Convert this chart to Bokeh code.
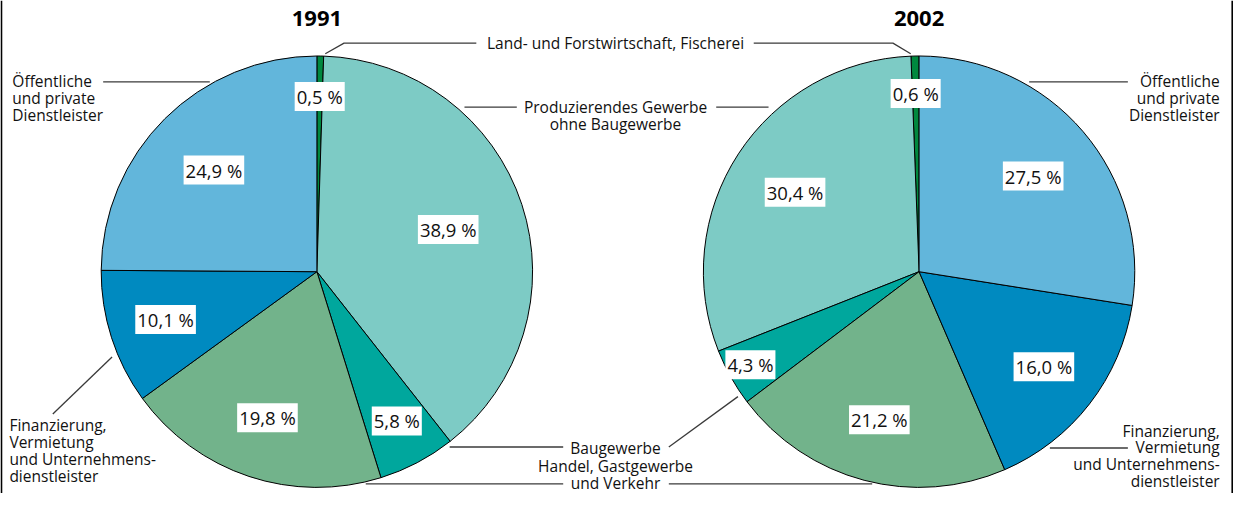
import math
from bokeh.plotting import figure
from bokeh.models import Range1d
from bokeh.core.properties import value
from bokeh.embed import file_html
from bokeh.resources import INLINE

# ---------------- data ----------------
categories = [
    "Land- und Forstwirtschaft, Fischerei",
    "Produzierendes Gewerbe ohne Baugewerbe",
    "Baugewerbe",
    "Handel, Gastgewerbe und Verkehr",
    "Finanzierung, Vermietung und Unternehmensdienstleister",
    "Öffentliche und private Dienstleister",
]
years = ["1991", "2002"]
shares_1991 = [0.5, 38.9, 5.8, 19.8, 10.1, 24.9]
shares_2002 = [0.6, 30.4, 4.3, 21.2, 16.0, 27.5]

# ---------------- style / layout ----------------
colors = ["#00883F", "#7DCBC5", "#00A79D", "#72B38B", "#008AC0", "#62B6DB"]
FONT = "Open Sans"
W, H = 1233, 493
REF_W, REF_H = 1249, 509  # layout is given in reference pixels, y flipped


def Y(yr):
    return REF_H - yr


pies = [
    dict(title=years[0], shares=shares_1991, cx=320.5, cy=Y(280), direction="clock",
         label_r=[181, 140, 174, 159, 161, 148]),
    dict(title=years[1], shares=shares_2002, cx=930.5, cy=Y(280), direction="anticlock",
         label_r=[184, 150, 196, 158, 160, 152]),
]
R = 218.5

p = figure(width=W, height=H, x_range=Range1d(0, REF_W), y_range=Range1d(0, REF_H),
           output_backend="svg", toolbar_location=None, x_axis_location=None,
           y_axis_location=None, min_border=0, outline_line_color=None,
           background_fill_color="white", border_fill_color="white")
p.grid.visible = False

for pie in pies:
    sh = pie["shares"]
    total = sum(sh)
    cum = [0.0]
    for v in sh:
        cum.append(cum[-1] + v / total)
    sign = -1 if pie["direction"] == "clock" else 1
    starts = [math.pi / 2 + sign * 2 * math.pi * cum[i] for i in range(len(sh))]
    ends = [math.pi / 2 + sign * 2 * math.pi * cum[i + 1] for i in range(len(sh))]
    p.wedge(x=pie["cx"], y=pie["cy"], radius=R, start_angle=starts, end_angle=ends,
            direction=pie["direction"], fill_color=colors, line_color="black", line_width=1)
    # percentage labels
    lx, ly, lt = [], [], []
    for i, v in enumerate(sh):
        mid = math.pi / 2 + sign * 2 * math.pi * (cum[i] + cum[i + 1]) / 2
        d = pie["label_r"][i]
        lx.append(pie["cx"] + d * math.cos(mid))
        ly.append(pie["cy"] + d * math.sin(mid))
        lt.append(f"{v:.1f}".replace(".", ",") + " %")
    p.text(x=lx, y=ly, text=lt, text_align="center", text_baseline="middle",
           text_font=value(FONT), text_font_size="18.5px", text_color="#111111",
           background_fill_color="white", padding=2)
    # title
    p.text(x=[pie["cx"]], y=[Y(19)], text=[pie["title"]], text_align="center",
           text_baseline="middle", text_font=value(FONT), text_font_size="22px",
           text_font_style="bold", text_color="#000000")

# ---------------- category labels (ref pixel coordinates) ----------------
LH = 17.5
label_specs = [
    # (lines, x, y_first, align)
    (["Land- und Forstwirtschaft, Fischerei"], 623, 44, "center"),
    (["Produzierendes Gewerbe", "ohne Baugewerbe"], 623, 110, "center"),
    (["Öffentliche", "und private", "Dienstleister"], 12, 83, "left"),
    (["Öffentliche", "und private", "Dienstleister"], 1235, 83, "right"),
    (["Finanzierung,", "Vermietung", "und Unternehmens-", "dienstleister"], 9, 438, "left"),
    (["Finanzierung,", "Vermietung", "und Unternehmens-", "dienstleister"], 1235, 444, "right"),
    (["Baugewerbe"], 623, 462, "center"),
    (["Handel, Gastgewerbe", "und Verkehr"], 623, 481, "center"),
]
for lines, x, y0, align in label_specs:
    p.text(x=[x] * len(lines), y=[Y(y0 + i * LH) for i in range(len(lines))], text=lines,
           text_align=align, text_baseline="middle", text_font=value(FONT),
           text_font_size="15.5px", text_color="#111111")

leaders = [
    [(329, 55), (348, 44), (482, 44)],
    [(763, 44), (904, 44), (922, 55)],
    [(470, 110), (523, 110)],
    [(725, 110), (778, 110)],
    [(104, 84), (212, 84)],
    [(1042, 84), (1142, 84)],
    [(113, 368), (53, 427)],
    [(1063, 462), (1142, 462)],
    [(455, 461), (570, 461)],
    [(677, 461), (747, 409)],
    [(370, 499), (570, 499)],
    [(677, 499), (883, 499)],
]
p.multi_line(xs=[[pt[0] for pt in l] for l in leaders],
             ys=[[Y(pt[1]) for pt in l] for l in leaders],
             line_color="#3a3a3a", line_width=1.3)

# frame lines left / right
p.segment(x0=[0.9, REF_W - 1.2], y0=[0, 0], x1=[0.9, REF_W - 1.2], y1=[REF_H, REF_H],
          line_color="black", line_width=1.8)

open("out.html", "w").write(file_html(p, INLINE))
